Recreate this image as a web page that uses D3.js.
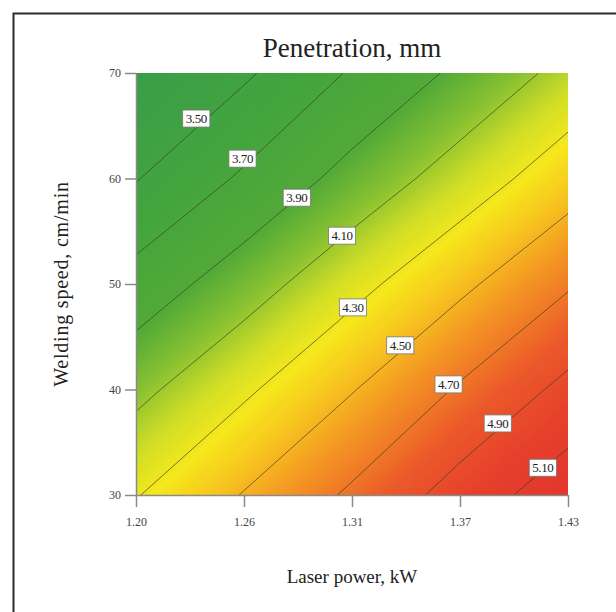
<!DOCTYPE html>
<html>
<head>
<meta charset="utf-8">
<script src="https://cdn.jsdelivr.net/npm/d3@7"></script>
<style>
body { margin: 0; background: #fff; }
text { font-family: "Liberation Serif", "Times New Roman", serif; }
</style>
</head>
<body>
<svg id="chart" width="616" height="612"></svg>
<script>
var powers = [1.20, 1.2575, 1.315, 1.3725, 1.43];
var speeds = [30, 40, 50, 60, 70];
// penetration (mm), one row per speed, one column per power
var penetration = [
    [4.29, 4.51, 4.73, 4.98, 5.22],
    [4.05, 4.27, 4.49, 4.72, 4.95],
    [3.78, 4.01, 4.24, 4.46, 4.68],
    [3.49, 3.73, 3.97, 4.19, 4.41],
    [3.21, 3.47, 3.72, 3.94, 4.16]
];
var levels = [3.5, 3.7, 3.9, 4.1, 4.3, 4.5, 4.7, 4.9, 5.1];
var labelPower = [1.2321, 1.2567, 1.2856, 1.3097, 1.3155, 1.3407, 1.3664, 1.3926, 1.4166];
var labelSpeed = [65.7, 61.9, 58.2, 54.6, 47.8, 44.2, 40.5, 36.8, 32.6];
var xTickLabels = ['1.20', '1.26', '1.31', '1.37', '1.43'];
var yTickLabels = ['30', '40', '50', '60', '70'];
var colorStops = [3.2, 3.6, 3.9, 4.05, 4.2, 4.32, 4.45, 4.6, 4.8, 5.0, 5.25];
var colorList = ['#3a9e4a', '#43a43e', '#52aa38', '#86c032', '#d2de26', '#f6e81c', '#f7c21f', '#f39224', '#ec5a2a', '#e6402c', '#e2352d'];

var width = 616;
var height = 612;
var plotLeft = 136, plotRight = 568, plotTop = 73, plotBottom = 495;

var svg = d3.select('#chart');

svg.append('rect')
    .attr('width', width)
    .attr('height', height)
    .attr('fill', '#fff');

// frame round the figure (right and bottom run off the picture)
svg.append('rect')
    .attr('x', 13.5)
    .attr('y', 13.5)
    .attr('width', 620)
    .attr('height', 620)
    .attr('fill', 'none')
    .attr('stroke', '#2b2b2b')
    .attr('stroke-width', 2);

var x = d3.scaleLinear().domain([powers[0], powers[powers.length - 1]]).range([plotLeft, plotRight]);
var y = d3.scaleLinear().domain([speeds[0], speeds[speeds.length - 1]]).range([plotBottom, plotTop]);

var nx = powers.length, ny = speeds.length;
var gridX = d3.scaleLinear().domain([0.5, nx - 0.5]).range([powers[0], powers[nx - 1]]);
var gridY = d3.scaleLinear().domain([0.5, ny - 0.5]).range([speeds[0], speeds[ny - 1]]);

var values = [];
penetration.forEach(function(row) {
    row.forEach(function(v) { values.push(v); });
});

var color = d3.scaleLinear()
    .domain(colorStops)
    .range(colorList)
    .interpolate(d3.interpolateRgb)
    .clamp(true);

var path = d3.geoPath(d3.geoTransform({
    point: function(px, py) {
        this.stream.point(x(gridX(px)), y(gridY(py)));
    }
}));

svg.append('clipPath')
    .attr('id', 'plot-clip')
    .append('rect')
    .attr('x', plotLeft)
    .attr('y', plotTop)
    .attr('width', plotRight - plotLeft)
    .attr('height', plotBottom - plotTop);

var plot = svg.append('g').attr('clip-path', 'url(#plot-clip)');

plot.append('rect')
    .attr('x', plotLeft)
    .attr('y', plotTop)
    .attr('width', plotRight - plotLeft)
    .attr('height', plotBottom - plotTop)
    .attr('fill', color(d3.min(values)));

var fillLevels = d3.range(3.20, 5.30, 0.01);
var bands = d3.contours().size([nx, ny]).thresholds(fillLevels)(values);

plot.selectAll('path.band')
    .data(bands)
    .join('path')
    .attr('class', 'band')
    .attr('d', path)
    .attr('fill', function(d) { return color(d.value); })
    .attr('stroke', function(d) { return color(d.value); })
    .attr('stroke-width', 0.4);

var lines = d3.contours().size([nx, ny]).thresholds(levels)(values);

plot.selectAll('path.iso')
    .data(lines)
    .join('path')
    .attr('class', 'iso')
    .attr('d', path)
    .attr('fill', 'none')
    .attr('stroke', '#3c3a1e')
    .attr('stroke-opacity', 0.65)
    .attr('stroke-width', 1);

// axes
var xAxis = d3.axisBottom(x)
    .tickValues(powers)
    .tickFormat(function(d, i) { return xTickLabels[i]; })
    .tickSize(12)
    .tickSizeOuter(0);
var yAxis = d3.axisLeft(y)
    .tickValues(speeds)
    .tickFormat(function(d, i) { return yTickLabels[i]; })
    .tickSize(11)
    .tickSizeOuter(0);

var gx = svg.append('g')
    .attr('transform', 'translate(0,' + plotBottom + ')')
    .call(xAxis);
var gy = svg.append('g')
    .attr('transform', 'translate(' + plotLeft + ',0)')
    .call(yAxis);

[gx, gy].forEach(function(g) {
    g.selectAll('path.domain').attr('stroke', '#8a8a8a').attr('stroke-width', 1.5);
    g.selectAll('.tick line').attr('stroke', '#8a8a8a').attr('stroke-width', 1.5);
    g.selectAll('.tick text')
        .attr('font-family', '"Liberation Serif", serif')
        .attr('font-size', 12)
        .attr('fill', '#444');
});
gx.selectAll('.tick text').attr('dy', '1.3em');
gy.selectAll('.tick text').attr('x', -15);

// contour labels
var labels = svg.append('g');
levels.forEach(function(lv, i) {
    var g = labels.append('g')
        .attr('transform', 'translate(' + x(labelPower[i]) + ',' + y(labelSpeed[i]) + ')');
    var t = g.append('text')
        .attr('text-anchor', 'middle')
        .attr('dy', '0.36em')
        .attr('font-family', '"Liberation Sans", Arial, sans-serif')
        .attr('font-size', 13)
        .attr('letter-spacing', -0.4)
        .attr('fill', '#222')
        .text(lv.toFixed(2));
    var b = t.node().getBBox();
    g.insert('rect', 'text')
        .attr('x', b.x - 3)
        .attr('y', b.y - 1)
        .attr('width', b.width + 6)
        .attr('height', b.height + 2)
        .attr('fill', '#fff')
        .attr('stroke', '#777')
        .attr('stroke-width', 0.8);
});

// titles
svg.append('text')
    .attr('x', (plotLeft + plotRight) / 2)
    .attr('y', 57)
    .attr('text-anchor', 'middle')
    .attr('font-size', 27)
    .attr('fill', '#222')
    .text('Penetration, mm');

svg.append('text')
    .attr('x', (plotLeft + plotRight) / 2)
    .attr('y', 583)
    .attr('text-anchor', 'middle')
    .attr('font-size', 19)
    .attr('fill', '#222')
    .text('Laser power, kW');

svg.append('text')
    .attr('transform', 'translate(68,' + ((plotTop + plotBottom) / 2) + ') rotate(-90)')
    .attr('text-anchor', 'middle')
    .attr('font-size', 20)
    .attr('letter-spacing', 0.8)
    .attr('fill', '#222')
    .text('Welding speed, cm/min');
</script>
</body>
</html>
